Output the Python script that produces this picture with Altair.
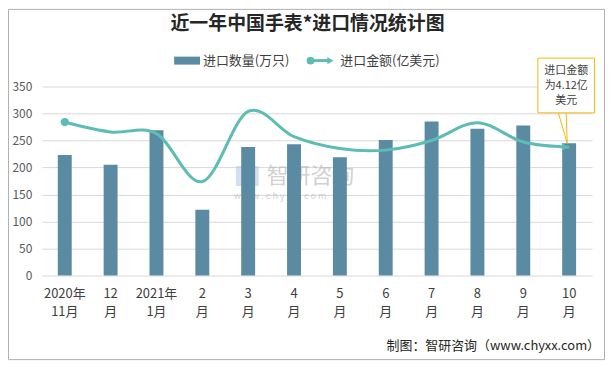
import altair as alt
import pandas as pd

# ---- data ----
months = ["2020年|11月", "12|月", "2021年|1月", "2|月", "3|月", "4|月",
          "5|月", "6|月", "7|月", "8|月", "9|月", "10|月"]
qty = [223, 205, 269, 122, 238, 243, 219, 251, 285, 272, 278, 245]          # 进口数量(万只)
amount = [4.92, 4.60, 4.55, 3.01, 5.26, 4.45, 4.07, 4.02, 4.33, 4.90, 4.28, 4.12]  # 进口金额(亿美元)
y_ticks = [0, 50, 100, 150, 200, 250, 300, 350]

df = pd.DataFrame({"month": months, "qty": qty, "amount": amount})
one = pd.DataFrame({"a": [0]})

BAR = "#5b8ba2"
LINE = "#5dbdb4"
FONT = "Noto Sans CJK SC"
W, H = 553, 190

x_enc = alt.X("month:N", sort=months, title=None,
              scale=alt.Scale(paddingInner=0, paddingOuter=0),
              axis=alt.Axis(labelExpr="split(datum.value, '|')", labelAngle=0,
                            labelFont=FONT, labelFontSize=13, labelColor="#404040",
                            labelLineHeight=18, labelPadding=12, labelBaseline="top",
                            domain=False, ticks=False, grid=False))

amt_scale = alt.Scale(domain=[0, 6.06])

bars = alt.Chart(df).mark_bar(size=14, color=BAR).encode(
    x=x_enc,
    y=alt.Y("qty:Q", title=None, scale=alt.Scale(domain=[0, 350]),
            axis=alt.Axis(values=y_ticks, grid=True, gridColor="#d9d9d9", domain=False,
                          ticks=False, labelFont=FONT, labelFontSize=12,
                          labelColor="#595959", labelPadding=10)),
)

line = alt.Chart(df).mark_line(color=LINE, strokeWidth=3, interpolate="cardinal").encode(
    x=x_enc, y=alt.Y("amount:Q", scale=amt_scale, axis=None))

start_pt = alt.Chart(df).transform_filter(alt.datum.month == months[0]).mark_point(
    shape="circle", filled=True, size=70, color=LINE, opacity=1).encode(
    x=x_enc, y=alt.Y("amount:Q", scale=amt_scale, axis=None))

end_arrow = alt.Chart(df).transform_filter(alt.datum.month == months[-1]).mark_point(
    shape="triangle-right", filled=True, size=60, color=LINE, opacity=1, xOffset=-4).encode(
    x=x_enc, y=alt.Y("amount:Q", scale=amt_scale, axis=None))

base1 = alt.Chart(one)

# outer frame
frame = base1.mark_rect(fill=None, stroke="#b0b0b0", strokeWidth=1).encode(
    x=alt.value(-33.5), x2=alt.value(565.5), y=alt.value(-77.5), y2=alt.value(274.5))

title = base1.mark_text(text="近一年中国手表*进口情况统计图", font=FONT, fontSize=19,
                        fontWeight="bold", color="#262626", align="center",
                        baseline="middle").encode(x=alt.value(267), y=alt.value(-63))

# legend
leg_sw = base1.mark_rect(color=BAR).encode(
    x=alt.value(133), x2=alt.value(159), y=alt.value(-30), y2=alt.value(-22))
leg_t1 = base1.mark_text(text="进口数量(万只)", font=FONT, fontSize=13, color="#404040",
                         align="left", baseline="middle").encode(x=alt.value(162), y=alt.value(-26))
leg_ln = base1.mark_rule(color=LINE, strokeWidth=3).encode(
    x=alt.value(270), x2=alt.value(288), y=alt.value(-26))
leg_c = base1.mark_point(shape="circle", filled=True, size=60, color=LINE, opacity=1).encode(
    x=alt.value(270), y=alt.value(-26))
leg_a = base1.mark_point(shape="triangle-right", filled=True, size=50, color=LINE, opacity=1).encode(
    x=alt.value(290), y=alt.value(-26))
leg_t2 = base1.mark_text(text="进口金额(亿美元)", font=FONT, fontSize=13, color="#404040",
                         align="left", baseline="middle").encode(x=alt.value(300), y=alt.value(-26))

# callout
ptr1 = base1.mark_rule(color="#f2b705", strokeWidth=1).encode(
    x=alt.value(519), y=alt.value(26), x2=alt.value(528), y2=alt.value(57))
ptr2 = base1.mark_rule(color="#f2b705", strokeWidth=1).encode(
    x=alt.value(527), y=alt.value(26), x2=alt.value(528), y2=alt.value(57))
box = base1.mark_rect(fill="white", stroke="#f2b705", strokeWidth=1).encode(
    x=alt.value(498.5), x2=alt.value(555.5), y=alt.value(-28.5), y2=alt.value(26.5))
call_lines = pd.DataFrame({"t": ["进口金额", "为4.12亿", "美元"], "i": [0, 1, 2]})
call_txt = alt.Chart(call_lines).mark_text(font=FONT, fontSize=11, color="#404040",
                                           align="center", baseline="middle").encode(
    text="t:N", x=alt.value(527),
    y=alt.Y("i:Q", scale=alt.Scale(domain=[0, 2], range=[-16, 15]), axis=None))

# watermark
wm_logo = base1.mark_rect(color="#a9c4dc", opacity=0.5).encode(
    x=alt.value(195), x2=alt.value(218), y=alt.value(80), y2=alt.value(100))
wm1 = base1.mark_text(text="智研咨询", font=FONT, fontSize=22, color="#b3b3b3", opacity=0.6,
                      align="left", baseline="middle").encode(x=alt.value(226), y=alt.value(90))
wm2 = base1.mark_text(text="w w w . c h y x x . c o m", font=FONT, fontSize=9, color="#b3b3b3",
                      opacity=0.6, align="left", baseline="middle").encode(
    x=alt.value(193), y=alt.value(110))

footer = base1.mark_text(text="制图：智研咨询（www.chyxx.com）", font=FONT, fontSize=13,
                         color="#262626", align="right", baseline="middle").encode(
    x=alt.value(561), y=alt.value(261))

chart = alt.layer(
    frame, wm_logo, wm1, wm2, bars, line, start_pt, end_arrow,
    title, leg_sw, leg_t1, leg_ln, leg_c, leg_a, leg_t2,
    ptr1, ptr2, box, call_txt, footer,
).resolve_scale(y="independent").properties(
    width=W, height=H,
    autosize=alt.AutoSizeParams(type="none"),
    padding={"left": 34, "top": 78, "right": 13, "bottom": 86},
    background="white",
).configure_view(stroke=None)

chart.save("out.html", embed_options={"renderer": "svg", "actions": False})
